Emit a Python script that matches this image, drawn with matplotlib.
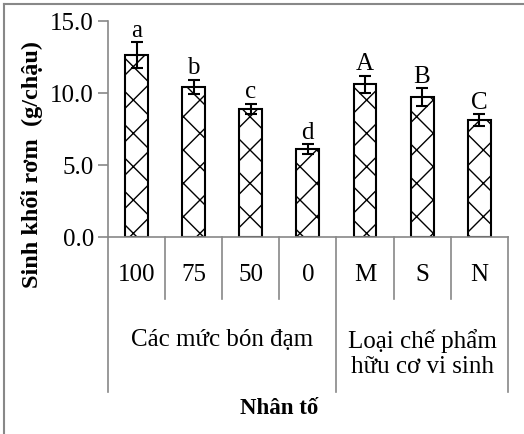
import numpy as np
import matplotlib.pyplot as plt
from matplotlib.lines import Line2D

plt.rcParams['font.family'] = ['Liberation Serif', 'DejaVu Serif']

categories = ['100', '75', '50', '0', 'M', 'S', 'N']
values = [12.6, 10.4, 8.9, 6.1, 10.6, 9.7, 8.1]
errors = [0.9, 0.5, 0.35, 0.35, 0.6, 0.6, 0.4]
letters = ['a', 'b', 'c', 'd', 'A', 'B', 'C']
groups = ['Các mức bón đạm', 'Loại chế phẩm\nhữu cơ vi sinh']
group_spans = [(0, 3), (4, 6)]
group_label_y = [-0.472, -0.535]

fig = plt.figure(figsize=(5.24, 4.35), dpi=100)
ax = fig.add_axes([0.206, 0.453, 0.763, 0.497])

x = np.arange(len(categories))
plt.rcParams['hatch.linewidth'] = 1.0
ax.bar(x, values, width=0.4, color='white', edgecolor='black', linewidth=1.5, hatch='x')
ax.errorbar(x, values, yerr=errors, fmt='none', ecolor='black', elinewidth=1.5,
            capsize=4.5, capthick=1.5)
for xi, v, e, t in zip(x, values, errors, letters):
    ax.text(xi, v + e + 0.1, t, ha='center', va='bottom', fontsize=18)

ax.set_xlim(-0.5, len(categories) - 0.5)
ax.set_ylim(0, 15)
ax.set_yticks([0, 5, 10, 15])
ax.set_yticklabels(['%.1f' % t for t in [0, 5, 10, 15]], fontsize=18)
ax.tick_params(axis='y', direction='out', length=7, color='#888888', width=1.2, pad=3)
ax.set_xticks([])
for s in ['top', 'right']:
    ax.spines[s].set_visible(False)
for s in ['left', 'bottom']:
    ax.spines[s].set_color('#888888')
    ax.spines[s].set_linewidth(1.2)

ax.set_ylabel('Sinh khối rơm  (g/chậu)', fontsize=17.5, fontweight='bold')
ax.yaxis.set_label_coords(-0.163, 0.338)

tr = ax.get_xaxis_transform()
for b in np.arange(-0.5, len(categories)):
    low = -0.718 if b in (-0.5, 3.5, 6.5) else -0.287
    ax.add_line(Line2D([b, b], [0, low], transform=tr, color='#888888', lw=1.2, clip_on=False))
for xi, c in zip(x, categories):
    ax.text(xi, -0.171, c, transform=tr, ha='center', va='center', fontsize=18)
for (a, b), g, gy in zip(group_spans, groups, group_label_y):
    ax.text((a + b) / 2, gy, g, transform=tr, ha='center', va='center', fontsize=18,
            linespacing=1.2)
ax.text(2.49, -0.787, 'Nhân tố', transform=tr, ha='center', va='center', fontsize=16.5,
        fontweight='bold')

# outer frame (top and left edges visible)
fig.add_artist(Line2D([4 / 524, 1], [1 - 5 / 435, 1 - 5 / 435], transform=fig.transFigure,
                      color='#888888', lw=1.5))
fig.add_artist(Line2D([4 / 524, 4 / 524], [0, 1 - 5 / 435], transform=fig.transFigure,
                      color='#888888', lw=1.5))

fig.savefig('out.png', dpi=100)
